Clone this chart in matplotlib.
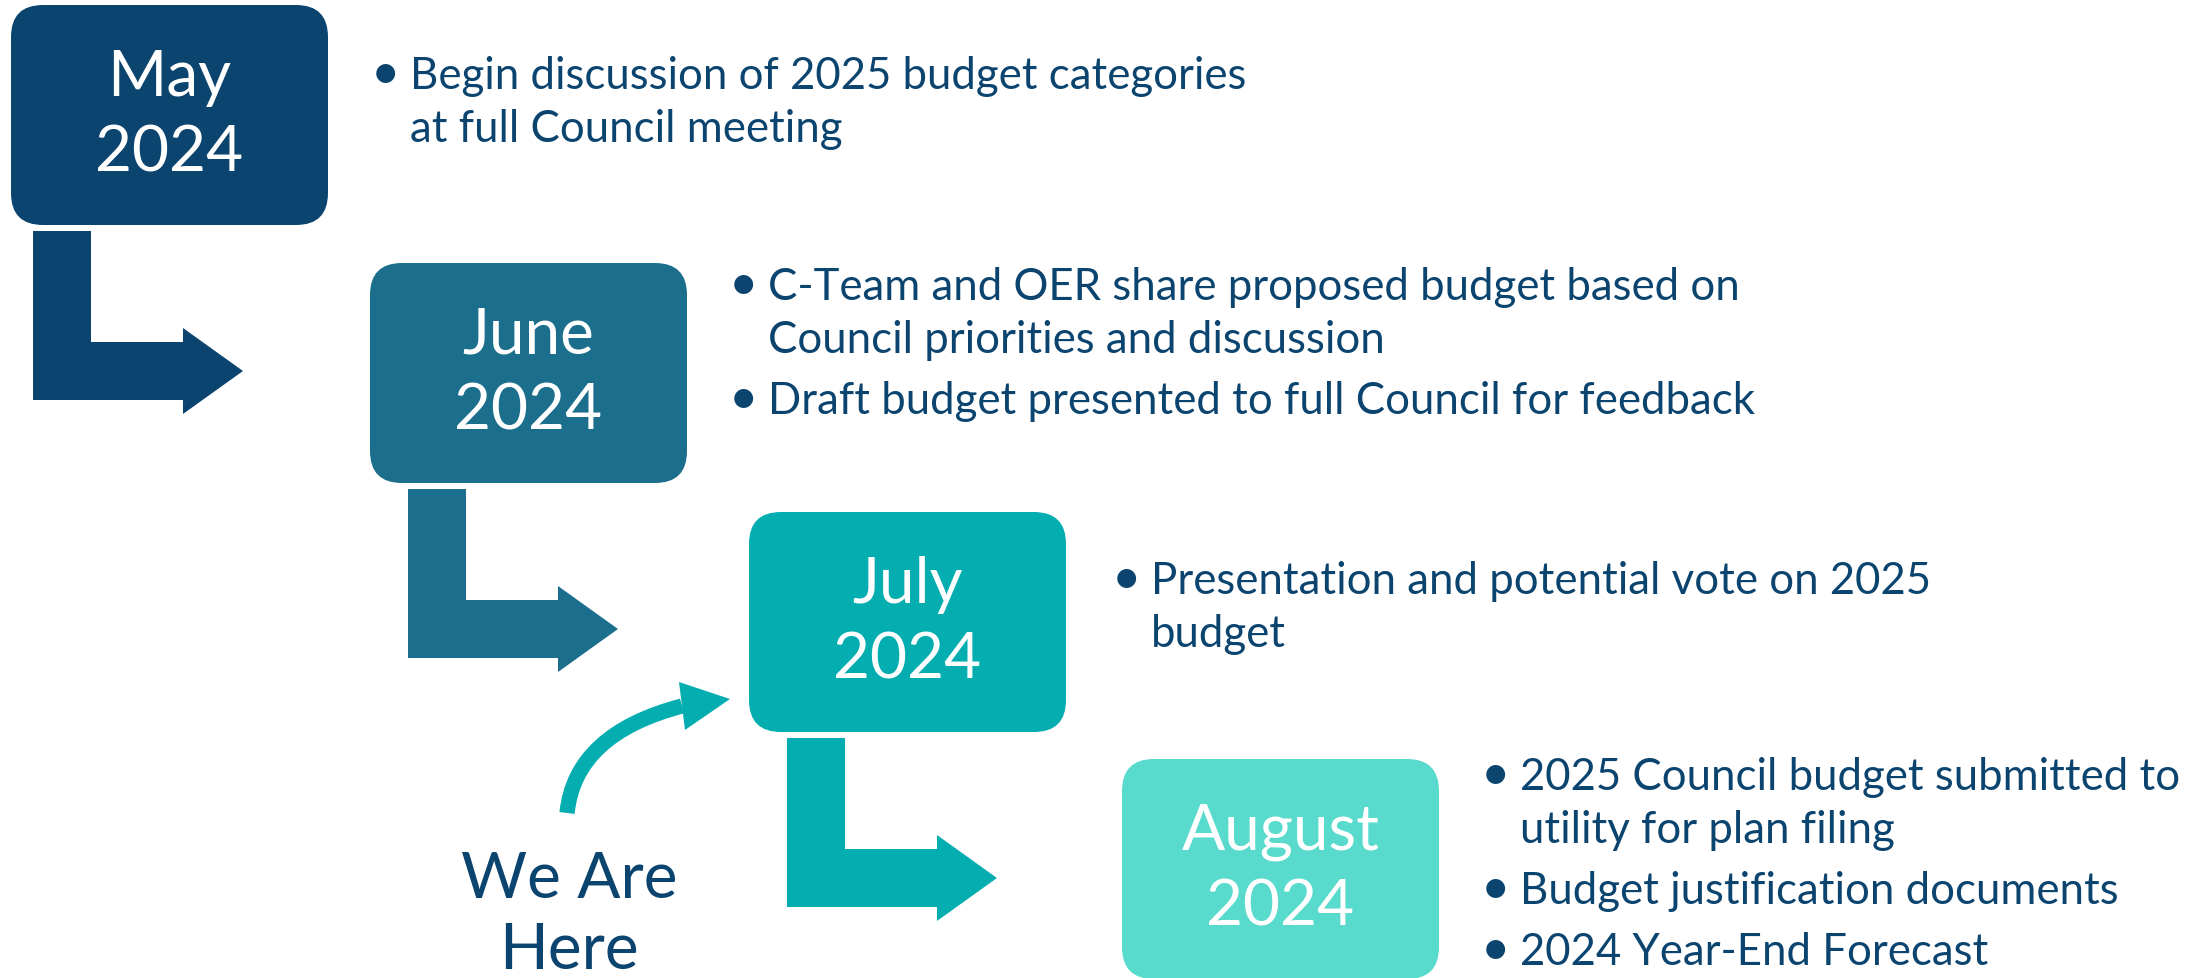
import matplotlib.pyplot as plt
from matplotlib.patches import FancyBboxPatch, Polygon, PathPatch
from matplotlib.path import Path

# content
months = ["May", "June", "July", "August"]
years = ["2024", "2024", "2024", "2024"]
bullets = [
    [["Begin discussion of 2025 budget categories", "at full Council meeting"]],
    [["C-Team and OER share proposed budget based on", "Council priorities and discussion"],
     ["Draft budget presented to full Council for feedback"]],
    [["Presentation and potential vote on 2025", "budget"]],
    [["2025 Council budget submitted to", "utility for plan filing"],
     ["Budget justification documents"],
     ["2024 Year-End Forecast"]],
]
marker_label = ["We Are", "Here"]

# styling / layout (pixel space, y downwards)
box_colors = ["#0B446F", "#1B6E8C", "#04ADB0", "#58DBCC"]
text_color = "#0B446F"
box_left = [11, 370, 749, 1122]
box_top = [6, 264, 513, 760]
box_w, box_h = 317, 220
arrow_dx = [22, 38, 38]
bullet_x = [384, 742, 1125, 1494]
first_base = [89, 300, 594, 790]
line_gap = 53
item_gap = 61

plt.rcParams['font.family'] = ['Lato', 'DejaVu Sans']

fig = plt.figure(figsize=(22.04, 9.79), dpi=100)
ax = fig.add_axes([0, 0, 1, 1])
ax.set_xlim(0, 2204)
ax.set_ylim(979, 0)
ax.axis("off")

big = 46
small = 31.5

for i, m in enumerate(months):
    x, y = box_left[i], box_top[i]
    ax.add_patch(FancyBboxPatch((x, y), box_w, box_h,
                                boxstyle="round,pad=0,rounding_size=32",
                                fc=box_colors[i], ec="none"))
    cx, cy = x + box_w / 2, y + box_h / 2
    ax.text(cx, cy - 38, m, color="white", fontsize=big, ha="center", va="center")
    ax.text(cx, cy + 38, years[i], color="white", fontsize=big, ha="center", va="center")

    # bullet text
    yb = first_base[i]
    for item in bullets[i]:
        ax.text(bullet_x[i] - 13, yb, "\u2022", color=text_color, fontsize=small + 5,
                ha="left", va="baseline")
        for line in item:
            ax.text(bullet_x[i] + 26, yb, line, color=text_color, fontsize=small,
                    ha="left", va="baseline")
            yb += line_gap
        yb += item_gap - line_gap

    # L arrow to the next box
    if i < len(arrow_dx):
        bottom = y + box_h
        x0 = x + arrow_dx[i]
        x1 = x0 + 58
        yt = bottom + 6
        ybt = bottom + 117
        ybb = ybt + 58
        yc = (ybt + ybb) / 2
        xh = x0 + 150
        xt = xh + 60
        pts = [(x0, yt), (x1, yt), (x1, ybt), (xh, ybt), (xh, yc - 43),
               (xt, yc), (xh, yc + 43), (xh, ybb), (x0, ybb)]
        ax.add_patch(Polygon(pts, closed=True, fc=box_colors[i], ec="none"))

# "We Are Here" marker
ax.text(569, 880, marker_label[0], color=text_color, fontsize=big, ha="center", va="center")
ax.text(569, 951, marker_label[1], color=text_color, fontsize=big, ha="center", va="center")

curve = Path([(567, 814), (575, 735), (682, 707)],
             [Path.MOVETO, Path.CURVE3, Path.CURVE3])
ax.add_patch(PathPatch(curve, fc="none", ec=box_colors[2], lw=11, capstyle="butt"))
ax.add_patch(Polygon([(679, 683), (730, 700), (685, 731)], closed=True,
                     fc=box_colors[2], ec="none"))

fig.savefig("out.png", dpi=100, facecolor="white")
